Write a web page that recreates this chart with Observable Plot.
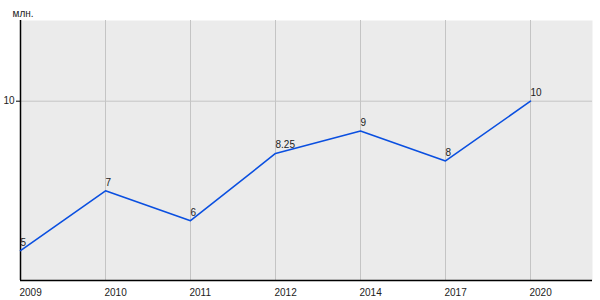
<!DOCTYPE html>
<html>
<head>
<meta charset="utf-8">
<script src="https://cdn.jsdelivr.net/npm/d3@7"></script>
<script src="https://cdn.jsdelivr.net/npm/@observablehq/plot@0.6"></script>
<style>
  html, body { margin: 0; padding: 0; background: #fff; }
  #chart svg { display: block; }
</style>
</head>
<body>
<div id="chart"></div>
<script>
const years = ["2009", "2010", "2011", "2012", "2014", "2017", "2020"];
const values = [5, 7, 6, 8.25, 9, 8, 10];
const valueLabels = ["5", "7", "6", "8.25", "9", "8", "10"];
const yTicks = [10];
const unitLabel = "млн.";

const data = years.map((year, i) => ({year, value: values[i], label: valueLabels[i]}));

const chart = Plot.plot({
  width: 600,
  height: 300,
  marginLeft: 20,
  marginRight: 8,
  marginTop: 20,
  marginBottom: 20,
  style: {fontFamily: "'Liberation Sans', Arial, sans-serif", fontSize: "10px", color: "#222", background: "#fff"},
  x: {type: "point", domain: years, range: [20, 530], padding: 0},
  y: {domain: [4, 12.7], range: [280, 20]},
  marks: [
    Plot.frame({fill: "#ebebeb", stroke: null}),
    Plot.gridX(years, {stroke: "#c4c4c4", strokeOpacity: 1}),
    Plot.gridY(yTicks, {stroke: "#c4c4c4", strokeOpacity: 1}),
    Plot.ruleX([years[0]], {stroke: "#000", strokeWidth: 1.5}),
    Plot.ruleY([4], {stroke: "#000", strokeWidth: 1.5}),
    Plot.axisX(years, {tickSize: 0, textAnchor: "start", dx: -1, dy: -1, fontSize: 10, fill: "#222", label: null}),
    Plot.axisY(yTicks, {tickSize: 4, tickPadding: 2, fontSize: 10, fill: "#222", stroke: "#000", label: null}),
    Plot.line(data, {x: "year", y: "value", stroke: "#0a4fe0", strokeWidth: 1.6}),
    Plot.text(data, {x: "year", y: "value", text: "label", textAnchor: "start", lineAnchor: "bottom", dx: 0, dy: -5, fontSize: 10, fill: "#222"}),
    Plot.text([unitLabel], {frameAnchor: "top-left", textAnchor: "start", lineAnchor: "bottom", dx: -8, dy: -4, fontSize: 10, fill: "#222"})
  ]
});
document.getElementById("chart").appendChild(chart);
</script>
</body>
</html>
